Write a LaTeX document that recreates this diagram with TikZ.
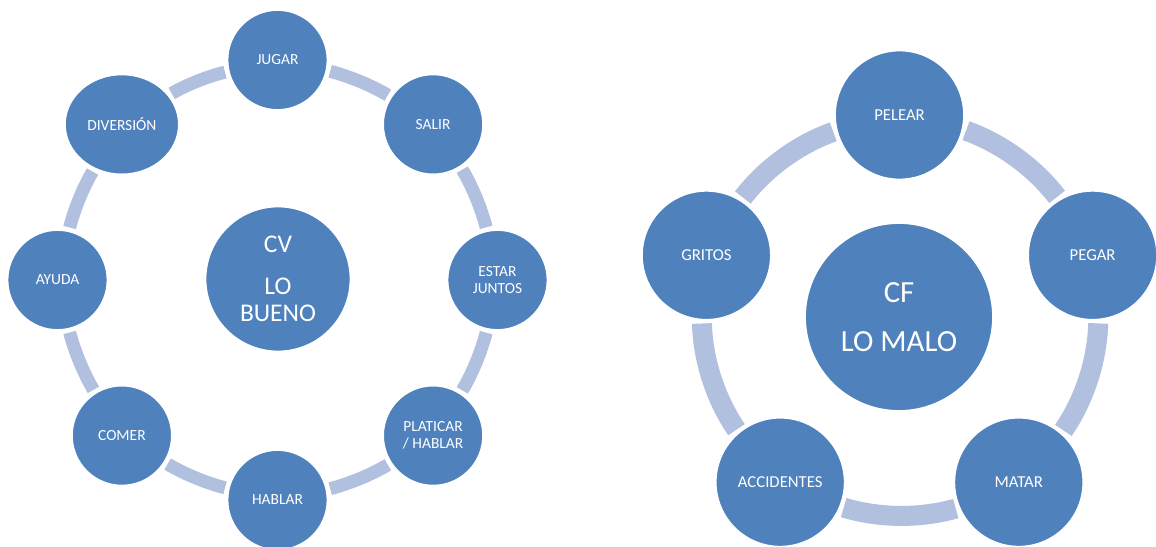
\documentclass[tikz,border=0pt]{standalone}
\usepackage{fontspec}
\setmainfont{Carlito}
\usetikzlibrary{shapes.geometric}
\definecolor{nodeblue}{RGB}{79,129,189}
\definecolor{ringblue}{RGB}{176,192,222}

\begin{document}
\begin{tikzpicture}[x=0.02cm, y=-0.02cm,
    circle_small/.style ={circle, fill=nodeblue, draw=white, line width=1pt,
      minimum size=2cm, inner sep=0pt, text=white, align=center,
      font=\fontsize{8.8}{9.5}\selectfont},
    circle_large/.style ={circle, fill=nodeblue, draw=white, line width=1pt,
      minimum size=2.58cm, inner sep=0pt, text=white, align=center,
      font=\fontsize{9.5}{11}\selectfont},
    circle_center/.style ={circle, fill=nodeblue, draw=white, line width=1pt,
      inner sep=0pt, text=white, align=center},
    band_small/.style ={draw=ringblue, line width=0.26cm,
      shorten >=0.06cm, shorten <=0.06cm, looseness=0.85},
    band_large/.style ={draw=ringblue, line width=0.4cm,
      shorten >=0.06cm, shorten <=0.06cm, looseness=0.87}]
    \useasboundingbox (0,0) rectangle (1156,547);
    \clip (0,0) rectangle (1156,547);
    % left cycle: CV lo bueno
    \node [circle_center, minimum size=2.9cm,
      font=\fontsize{14.5}{15.5}\selectfont] (cv) at (278,279) {CV\\[8pt]LO\\BUENO};
    \node [circle_small] (jugar) at (277.5,60) {JUGAR};
    \node [circle_small] (salir) at (433.1,124.4) {SALIR};
    \node [circle_small] (estar) at (497.5,280) {ESTAR\\JUNTOS};
    \node [circle_small] (platicar) at (433.1,435.6) {PLATICAR\\/ HABLAR};
    \node [circle_small] (hablar) at (277.5,500) {HABLAR};
    \node [circle_small] (comer) at (121.9,435.6) {COMER};
    \node [circle_small] (ayuda) at (57.5,280) {AYUDA};
    \node [circle_small, ellipse, minimum width=2.28cm, minimum height=2cm]
      (diversion) at (121.9,124.4) {DIVERSIÓN};
    % right cycle: CF lo malo
    \node [circle_center, minimum size=3.76cm,
      font=\fontsize{17.5}{21}\selectfont] (cf) at (899,317) {CF\\[7pt]LO MALO};
    \node [circle_large] (pelear) at (899.5,115) {PELEAR};
    \node [circle_large] (pegar) at (1092.6,255.3) {PEGAR};
    \node [circle_large] (matar) at (1018.8,482.2) {MATAR};
    \node [circle_large] (accidentes) at (780.2,482.2) {ACCIDENTES};
    \node [circle_large] (gritos) at (706.4,255.3) {GRITOS};
    % connecting the circles with arcs
    \begin{scope}[every path/.style=band_small]
     \path (jugar.-12.4) to[bend left=8] (salir.147.4);
     \path (salir.-57.4) to[bend left=8] (estar.102.4);
     \path (estar.-102.4) to[bend left=8] (platicar.57.4);
     \path (platicar.-147.4) to[bend left=8] (hablar.12.4);
     \path (hablar.167.6) to[bend left=8] (comer.-32.6);
     \path (comer.122.6) to[bend left=8] (ayuda.-77.6);
     \path (ayuda.77.6) to[bend left=8] (diversion.-122.6);
     \path (diversion.32.6) to[bend left=8] (jugar.-167.6);
    \end{scope}
    \begin{scope}[every path/.style=band_large]
     \path (pelear.-13.9) to[bend left=16.4] (pegar.121.9);
     \path (pegar.-85.9) to[bend left=16.4] (matar.49.9);
     \path (matar.-157.9) to[bend left=16.4] (accidentes.-22.1);
     \path (accidentes.130.1) to[bend left=16.4] (gritos.-94.1);
     \path (gritos.58.1) to[bend left=16.4] (pelear.-166.1);
    \end{scope}
  \end{tikzpicture}
\end{document}
